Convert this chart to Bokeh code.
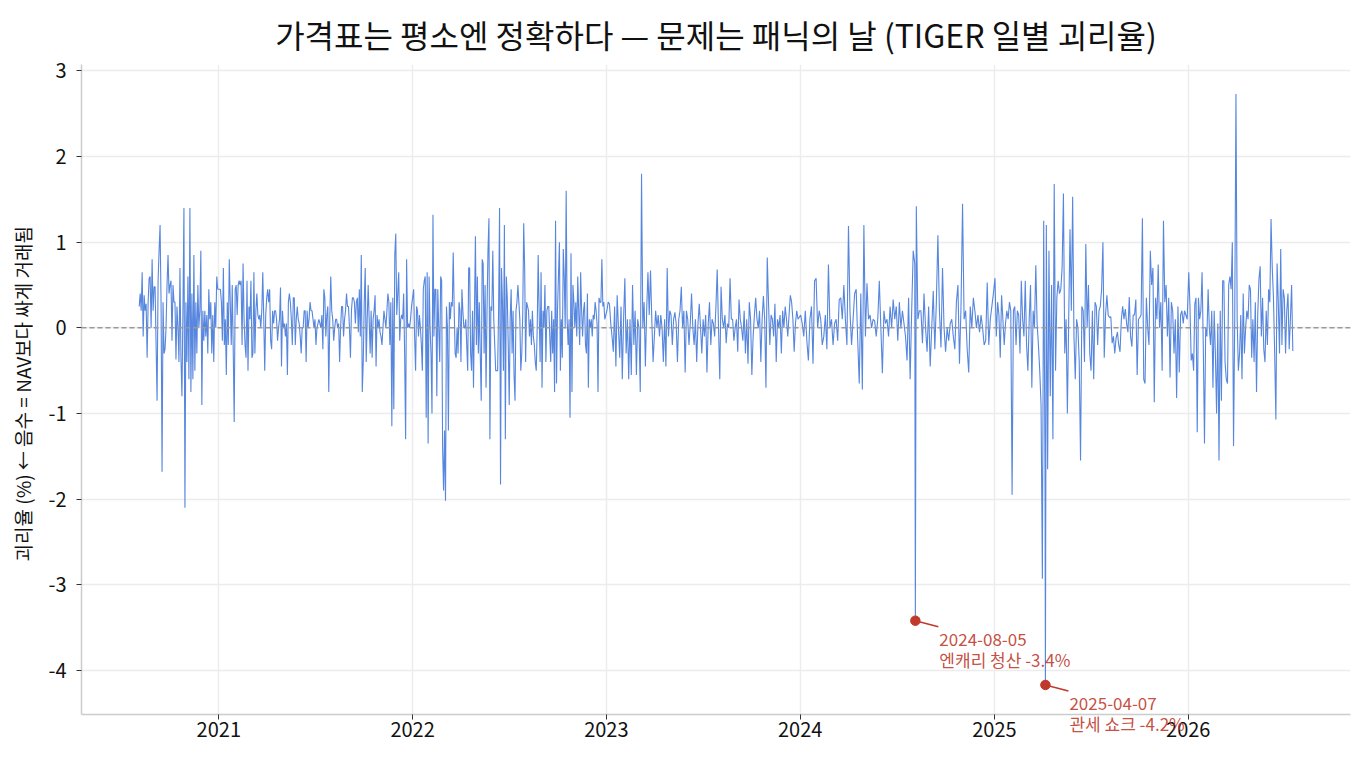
import pandas as pd
from bokeh.plotting import figure
from bokeh.models import ColumnDataSource, Span, FixedTicker, DatetimeTickFormatter, Range1d, Label
from bokeh.embed import file_html
from bokeh.resources import INLINE

FONT = "Noto Sans CJK KR"

# daily premium/discount (%), one list per calendar year
v2020 = [0.25, 0.4, 0.2, 0.65, -0.1, 0.38, 0.2, 0.28, -0.35, 0.3,
         0.58, 0.6, 0.0, 0.8, 0.2, 0.48, 0.48, -0.2, -0.85, 0.55,
         0.9, 1.2, 0.3, -1.68, 0.3, -0.3, -0.25, 0.0, 0.5, 0.85,
         0.4, 0.5, 0.55, -0.15, 0.5, 0.3, 0.3, -0.37, 0.25, 0.0,
         -0.4, 0.7, -0.35, -0.8, 0.2, 1.4, -2.1, 0.3, -0.4, 0.6,
         -0.6, 1.4, -0.75, 0.4, -0.6, 0.85, -0.5, 0.3, -0.3, 0.5,
         0.0, 0.2, 0.9, -0.9, 0.2, -0.15, 0.2, -0.1, 0.15, -0.3,
         0.45, 0.1, 0.3, -0.3, 0.15, -0.4, 0.3, 0.0, 0.6, 0.45]
v2021 = [0.45, 0.3, -0.15, 0.7, -0.2, 0.1, -0.55, 0.3, -0.2, 0.8,
         0.3, -0.2, 0.5, -0.25, -1.1, 0.45, 0.5, 0.15, 0.5, 0.55,
         0.5, 0.55, -0.2, 0.75, 0.1, -0.2, -0.35, 0.55, -0.5, 0.25,
         0.1, 0.55, -0.35, -0.3, 0.65, -0.3, 0.2, 0.4, 0.15, 0.1,
         0.15, 0.0, 0.2, 0.65, 0.1, -0.5, 0.15, 0.35, 0.45, 0.3,
         0.45, -0.15, -0.25, 0.2, 0.05, 0.2, 0.2, 0.1, -0.15, 0.0,
         0.1, 0.47, -0.45, 0.2, 0.0, 0.05, -0.1, 0.05, -0.55, 0.3,
         0.4, 0.3, 0.1, -0.2, 0.35, 0.35, -0.2, 0.1, 0.25, 0.1,
         0.05, -0.1, -0.3, 0.0, 0.0, 0.2, 0.2, -0.4, 0.2, 0.0,
         0.1, 0.3, 0.2, 0.2, 0.1, 0.0, 0.1, -0.2, 0.0, 0.05,
         0.1, 0.05, 0.0, 0.15, -0.25, 0.45, 0.35, -0.1, 0.15, 0.25,
         -0.75, 0.1, 0.6, 0.2, 0.1, -0.15, 0.0, 0.1, 0.1, 0.0,
         0.05, -0.4, 0.0, 0.25, 0.25, -0.1, 0.1, 0.2, 0.4, 0.25,
         0.25, 0.0, -0.35, 0.2, 0.35, 0.35, 0.3, 0.05, 0.3, 0.35,
         -0.05, 0.45, -0.1, 0.85, -0.75, -0.4, 0.3, 0.7, -0.4, 0.1,
         0.5, 0.1, -0.3,
         0.2, -0.35, 0.1, 0.2, 0.38, -0.45, 0.15, 0.0, 0.1, -0.05,
         -0.1, -0.2, 0.0, 0.2, 0.1, 0.0, 0.2, 0.4, 0.3, -0.2,
         0.3, -1.15, 0.35, -0.95, 0.85, 1.1, 0.15, 0.4, 0.65, -0.15,
         0.1, 0.15, 0.1, 0.4, -0.3, -1.3, 0.8, 0.0, 0.05, 0.0,
         0.1, 0.25]
v2022 = [0.45, -0.1, -0.5, 0.25, 0.2, -0.1, 0.15, 0.0, -0.2, -0.5,
         0.45, 0.55, 0.6, -1.05, 0.65, -1.35, 0.6, 0.0, -0.3, -1.0,
         1.32, -0.1, 0.45, 0.45, -0.8, 0.45, 0.0, -0.4, 0.6, 0.55,
         -1.4, -1.9, -1.2, -2.02, 0.25, 0.0, -1.2, 0.3, 0.1, 0.3,
         0.25, 0.88, 0.2, -0.3, -0.35, 0.0, -0.3, 0.3, 0.2, -0.4,
         0.45, 0.2, 0.0, 0.0, 0.1, -0.2, -0.5, 0.7, 0.7, -0.3,
         -0.5, 0.2, -0.7, 0.2, 1.07, -0.2, 0.6, -0.3, 0.3, -0.3,
         -0.85, 0.8, 0.75, -0.3, 0.5, -0.7, 0.2, 0.9, 1.28, -1.3,
         0.25, 0.2, 0.9, 0.1, -0.2, -0.5, -0.5, -0.5, 0.2, 1.4,
         -1.83, 0.7, 0.3, -0.5, 1.2, -1.3, 0.6, 0.35, -0.2, -0.9,
         0.1, 0.45, -0.3, 0.2, -0.55, -0.85, 0.2, 0.3, 0.5, 0.3,
         0.1, -0.5, -0.3, 0.15, 1.22, 0.7, -0.4, 0.3, 0.25, 0.2,
         -0.1, 0.1, -0.2, 0.2, -0.1, -0.2, -0.4, -0.5, 0.0, 0.85,
         0.2, -0.4, 0.65, -0.7, 0.2, 0.0, 0.5, -0.4, 0.2, 0.25,
         0.25, -0.1, -0.4, 0.2, -0.3, 0.1, -0.75, 1.25, -0.65, 0.2,
         0.6, 1.0, -0.5, 0.1, -0.35, 0.92, 0.6, 0.0, 1.6, 0.1,
         -0.2, 0.1, -1.05, 0.87, -0.75, 0.5, 0.3, 0.0, 0.3, -0.1,
         0.6, 0.2, -0.2, 0.65, 0.2, -0.1, 0.2, 0.3, -0.2, -0.3,
         0.4, -0.7, 0.1, 0.0, 0.1, -0.1, 0.15, 0.1, 0.3, 0.2,
         0.05, -0.75, 0.35, 0.3, 0.3, 0.8, 0.25, 0.3, 0.1]
v2023 = [0.2, 0.3, 0.28, 0.05, -0.1, -0.28, 0.25, -0.45, 0.38, 0.0,
         -0.35, 0.25, -0.6, 0.1, 0.58, -0.3, 0.1, -0.6, 0.1, -0.55,
         0.5, -0.2, 0.2, -0.55, 0.1, 0.0, -0.75, 1.8, 0.0, 0.3,
         -0.45, 0.2, 0.65, 0.15, 0.67, 0.1, -0.4, -0.1, 0.2, 0.0,
         0.15, -0.1, 0.15, 0.0, -0.4, 0.1, -0.45, 0.7, -0.1, 0.2,
         0.15, -0.2, 0.1, 0.18, 0.05, -0.4, 0.1, 0.2, 0.48, 0.0,
         0.2, -0.52, 0.2, 0.1, -0.2, 0.05, 0.4, 0.0, -0.2, 0.1,
         -0.4, 0.05, 0.28, 0.0, -0.3, 0.1, -0.1, 0.15, -0.52, 0.05,
         0.3, -0.2, 0.1, 0.05, -0.1, 0.25, 0.68, 0.0, -0.6, 0.48,
         0.1, 0.0, 0.15, -0.18, 0.05, 0.0, 0.58, 0.1, 0.1, -0.15,
         0.0, 0.1, -0.28, 0.33, 0.1, 0.0, -0.15, 0.2, -0.3, 0.1,
         -0.42, 0.3, 0.1, -0.55, -0.1, 0.15, 0.35, 0.1, 0.0, 0.2,
         -0.4, 0.1, 0.37, 0.1, -0.7, 0.82, 0.3, -0.2, 0.15, 0.1,
         -0.1, 0.28, -0.4, 0.1, 0.0, 0.15, -0.3, 0.2, 0.0, 0.25,
         0.1, -0.1, 0.15, 0.38, 0.3, 0.1, -0.28, 0.05, 0.2, 0.1]
v2024 = [0.15, 0.05, -0.1, 0.2, -0.15, -0.38, 0.1, 0.25, -0.42, 0.55,
         0.58, 0.0, 0.2, 0.1, -0.2, -0.1, 0.15, -0.25, 0.74, 0.0,
         0.1, -0.2, 0.05, 0.1, -0.15, 0.33, 0.35, 0.1, 0.5, 0.1,
         -0.2, 1.19, 0.18, -0.2, 0.1, 0.4,
         0.45, -0.15, -0.65, 0.4, -0.72, 1.2, -0.1, 0.52, 0.1, 0.15,
         0.0, 0.1, 0.08, -0.1, 0.1, 0.55, 0.0, -0.53, 0.2, 0.05,
         0.1, -0.1, 0.25, 0.0, 0.33, 0.1, 0.25, -0.15, 0.3, 0.0,
         0.2, 0.05, -0.1, -0.38, 0.35, -0.6, 0.2, 0.9, 0.75,
         1.42, 0.1, 0.2, 0.2, -0.18, 0.4, 0.0, -0.28, 0.25, -0.45,
         0.0, 0.43, -0.25, 0.3, 1.08, 0.2, -0.23, 0.7, 0.0, -0.28,
         0.0, -0.15, 0.05, 0.1, -0.1, -0.25, 0.3, 0.5, -0.42, 0.25,
         1.45, 0.1, 0.2, -0.25, -0.52, 0.25, 0.0, 0.35, 0.2, 0.0,
         0.15, -0.05, 0.15, 0.0, -0.2, -0.15, 0.53, -0.2, 0.1, 0.25, 0.4]
v2025 = [0.58, -0.1, 0.3, 0.15, -0.35, 0.38, 0.1, -0.2, 0.05, 0.2,
         0.1, 0.3, 0.2, -1.95, 0.2, 0.25, -0.2, 0.2, 0.15, -0.3,
         0.55, 0.1, -0.1, 0.55, -0.2, -0.5, 0.1, 0.5, -0.7, 0.2,
         0.0, 0.73, 0.05, -0.2, -0.5, -0.9, -2.93, 1.25, -1.63,
         1.2, -1.65, 0.9, -0.8, 0.5, -1.3, 1.68, -0.5, 0.35, 0.55,
         0.4, 0.45, 0.7, 1.57, -0.3, 0.1, -1.0, 0.1, 1.15, 0.2,
         1.53, -0.1, -0.6, 0.1, 0.0, -0.4, -1.55, 0.25, 0.2, -0.4,
         0.98, 0.0, 0.5, -0.3, -0.5, 0.2, -0.6, 0.3, 0.25, -0.2, 0.2,
         0.25, 0.45, 1.0, -0.35, 0.15, 0.38, 0.15, 0.12, 0.13, -0.18,
         -0.1, -0.3, -0.12, -0.05, -0.2, -0.28, 0.1, 0.25, 0.1, 0.22,
         0.05, -0.05, 0.36, -0.1, -0.22, 0.15, 0.15, 0.33, -0.55, 0.1,
         0.12, 0.15, 1.28, -0.6, -0.65, 0.35, 0.0, -0.2, 0.9, 0.5,
         0.7, -0.87, 0.35, 0.1, 0.74, 0.0, 0.3, -0.5, 1.25, 0.3,
         0.5, -0.1, 0.35, -0.58, 0.3, 0.2, -0.3, 0.1, -0.82, 0.25,
         -0.52, 0.15, 0.2, 0.05, 0.2, 0.15, 0.1]
v2026 = [0.65, 0.25, -0.38, -0.3, -0.5, 0.28, 0.35, -1.22, 0.35, 0.1,
         0.2, 0.65, -0.2, -1.35, 0.0, -0.1, 0.45, 0.0, -0.2, 0.2,
         -0.7, 0.2, -0.3, -1.0, 0.05, -1.55, 0.2, -0.85, 0.55, 0.55,
         -0.4, -0.6, -0.65, 0.5, 0.6, 0.45, 1.0, -1.38, 0.1, 2.73,
         0.1, -0.5, -0.3, 0.15, -0.6, 0.4, -0.3, 0.0, 0.2, 0.1,
         0.5, 0.45, -0.35, 0.1, -0.4, 0.3, -0.75, 0.15, 0.57, 0.72,
         -0.1, 0.35, -0.25, -0.4, 0.2, -0.2, 0.45, 0.3, 1.27, 0.7,
         0.35, -0.3, -1.07, 0.75, 0.3, -0.3, 0.92, -0.2, 0.45, 0.35,
         -0.3, 0.2, 0.4, -0.25, 0.1, 0.5, -0.27]

year_values = [v2020, v2021, v2022, v2023, v2024, v2025, v2026]
year_starts = ["2020-08-04", "2021-01-04", "2022-01-03", "2023-01-02", "2024-01-02", "2025-01-02", "2026-01-02"]
year_ends = ["2020-12-30", "2021-12-30", "2022-12-29", "2023-12-28", "2024-12-30", "2025-12-30", "2026-07-17"]

# the two panic days that get a callout
event_dates = ["2024-08-05", "2025-04-07"]
event_names = ["엔캐리 청산", "관세 쇼크"]
event_values = [-3.42, -4.17]

tick_years = [2021, 2022, 2023, 2024, 2025, 2026]
y_ticks = [-4, -3, -2, -1, 0, 1, 2, 3]

parts = []
for start, end, vals in zip(year_starts, year_ends, year_values):
    parts.append(pd.Series(vals, index=pd.date_range(start, end, periods=len(vals))))
events = pd.Series(event_values, index=pd.to_datetime(event_dates))
series = pd.concat(parts + [events]).sort_index()

src = ColumnDataSource(data=dict(date=series.index, value=series.values))

# matplotlib-like 5% margins
x0, x1 = series.index.min(), series.index.max()
xpad = (x1 - x0) * 0.05
ymin, ymax = series.min(), series.max()
ypad = (ymax - ymin) * 0.05
x_start, y_start = x0 - xpad, ymin - ypad

W, H = 1358, 765
BL, BR, BT, BB = 81, 8, 64, 51
frame_w, frame_h = W - BL - BR, H - BT - BB

p = figure(width=W, height=H, x_axis_type="datetime", output_backend="svg", toolbar_location=None,
           x_range=Range1d(x_start, x1 + xpad), y_range=Range1d(y_start, ymax + ypad),
           min_border_left=BL, min_border_right=BR, min_border_top=BT, min_border_bottom=BB)

p.title.text = "가격표는 평소엔 정확하다 — 문제는 패닉의 날 (TIGER 일별 괴리율)"
p.title.align = "center"
p.title.text_font = FONT
p.title.text_font_size = "32px"
p.title.text_font_style = "normal"
p.title.text_color = "#111111"
p.title.standoff = 16

p.outline_line_color = None
p.background_fill_color = "white"
p.border_fill_color = "white"

xt = FixedTicker(ticks=[pd.Timestamp(f"{y}-01-01").value / 1e6 for y in tick_years])
p.xaxis.ticker = xt
p.xgrid.ticker = xt
p.xaxis.formatter = DatetimeTickFormatter(years="%Y", months="%Y", days="%Y", hours="%Y")
p.yaxis.ticker = FixedTicker(ticks=y_ticks)
p.yaxis.major_label_overrides = {t: str(t) for t in y_ticks}

for ax in (p.xaxis, p.yaxis):
    ax.axis_line_color = "#cccccc"
    ax.axis_line_width = 1.5
    ax.major_tick_line_color = "#333333"
    ax.major_tick_out = 5
    ax.major_tick_in = 0
    ax.minor_tick_line_color = None
    ax.major_label_text_font = FONT
    ax.major_label_text_font_size = "20px"
    ax.major_label_text_color = "#111111"
p.xaxis.major_label_standoff = 2
p.yaxis.major_label_standoff = 10

p.yaxis.axis_label = "괴리율 (%)  ←  음수 = NAV보다 싸게 거래됨"
p.yaxis.axis_label_text_font = FONT
p.yaxis.axis_label_text_font_size = "19px"
p.yaxis.axis_label_text_font_style = "normal"
p.yaxis.axis_label_text_color = "#111111"
p.yaxis.axis_label_standoff = 9

p.grid.grid_line_color = "#ececec"
p.grid.grid_line_width = 1.5

p.line("date", "value", source=src, line_color="#5686de", line_width=1.1)
p.add_layout(Span(location=0, dimension="width", line_color="#999999", line_dash="5 3", line_width=1.5))

# callouts: dot, short leader line, two lines of text
ms_per_px = (x1 - x0 + 2 * xpad) / pd.Timedelta(milliseconds=1) / frame_w
val_per_px = (ymax - ymin + 2 * ypad) / frame_h
ev_x = pd.to_datetime(event_dates)
ev_src = ColumnDataSource(data=dict(
    date=ev_x,
    value=event_values,
    x_end=ev_x + pd.to_timedelta([23 * ms_per_px] * len(ev_x), unit="ms"),
    y_end=[v - 6 * val_per_px for v in event_values],
))
p.segment("date", "value", "x_end", "y_end", source=ev_src, line_color="#c0392b", line_width=1.6)
p.scatter("date", "value", source=ev_src, size=9.5, color="#c0392b")

# a line of text that falls below the frame goes in the side panel, where it is not clipped
for d, n, v in zip(event_dates, event_names, event_values):
    for txt, dy in ((d, -19), (f"{n} {v:.1f}%", -38.5)):
        lab = Label(x=pd.Timestamp(d).value / 1e6, y=v, text=txt,
                    x_offset=24, y_offset=dy, text_baseline="alphabetic", text_align="left",
                    text_font=FONT, text_font_size="17px", text_color="#c0392b", text_alpha=0.9)
        if (v - y_start) / val_per_px + dy < 4:
            p.add_layout(lab, "below")
        else:
            p.add_layout(lab)

open("out.html", "w").write(file_html(p, INLINE, "TIGER 괴리율"))
